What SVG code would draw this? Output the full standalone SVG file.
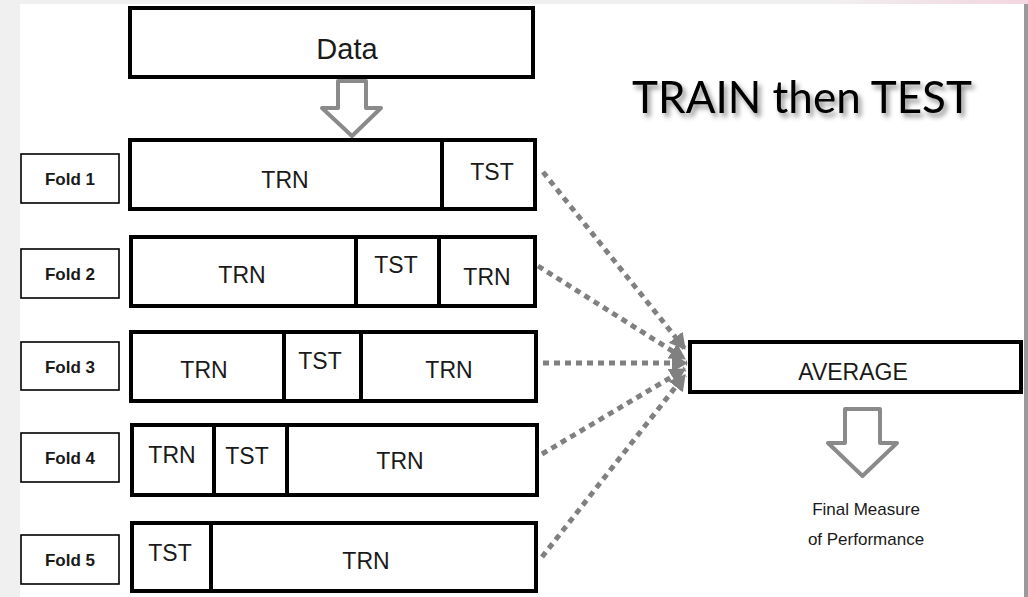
<svg xmlns="http://www.w3.org/2000/svg" width="1028" height="597" viewBox="0 0 1028 597">
<style>
.bg{fill:#f0f0f0}
.main{fill:#fff;stroke:#000;stroke-width:4}
.div{stroke:#000;stroke-width:4}
.lbl{fill:#fff;stroke:#000;stroke-width:1.6}
.t{font-family:"Liberation Sans",Arial,sans-serif;fill:#1a1a1a;text-anchor:middle}
.cell{font-size:23px}
.fold{font-size:17px;font-weight:bold}
.blk{fill:#fff;stroke:#8a8a8a;stroke-width:4;stroke-linejoin:round}
.con{stroke:#808080;stroke-width:5;stroke-dasharray:6 5;fill:none}
</style>
<defs>
<linearGradient id="topg" x1="0" y1="0" x2="1" y2="0">
<stop offset="0" stop-color="#f0f0f0"/>
<stop offset="0.8" stop-color="#f0f0f0"/>
<stop offset="1" stop-color="#f3d6e0"/>
</linearGradient>
<filter id="sh" x="-10%" y="-30%" width="130%" height="180%">
<feDropShadow dx="3" dy="4" stdDeviation="2.5" flood-color="#000" flood-opacity="0.45"/>
</filter>
<marker id="ah" markerUnits="userSpaceOnUse" markerWidth="16" markerHeight="18" refX="15" refY="9" orient="auto">
<path d="M0,0 L16,9 L0,18 z" fill="#808080"/>
</marker>
</defs>
<rect class="bg" x="0" y="0" width="1028" height="597"/>
<rect x="0" y="0" width="1028" height="4" fill="url(#topg)"/>
<rect x="20" y="4" width="1004" height="593" fill="#fff"/>
<rect x="1024" y="4" width="4" height="593" fill="#9a9a9a"/>

<g id="title">
<text x="802" y="113" font-family="Lato,'Open Sans',sans-serif" font-size="44" fill="#000" text-anchor="middle" filter="url(#sh)">TRAIN then TEST</text>
</g>

<g id="data">
<rect class="main" x="130" y="8" width="403" height="69"/>
<text class="t" x="347" y="59" font-size="29">Data</text>
</g>
<g id="arrow-data">
<path class="blk" d="M338,81 H366 V108 H381 L352,136 L322,108 H338 Z"/>
</g>

<g id="fold1">
<rect class="lbl" x="21" y="154" width="98" height="49"/>
<text class="t fold" x="70" y="185">Fold 1</text>
<rect class="main" x="130" y="140" width="405" height="69"/>
<line class="div" x1="442" y1="140" x2="442" y2="209"/>
<text class="t cell" x="285" y="188">TRN</text>
<text class="t cell" x="492" y="180">TST</text>
</g>

<g id="fold2">
<rect class="lbl" x="21" y="249" width="98" height="49"/>
<text class="t fold" x="70" y="280">Fold 2</text>
<rect class="main" x="131" y="237" width="404" height="69"/>
<line class="div" x1="356" y1="237" x2="356" y2="306"/>
<line class="div" x1="439" y1="237" x2="439" y2="306"/>
<text class="t cell" x="242" y="283">TRN</text>
<text class="t cell" x="396" y="273">TST</text>
<text class="t cell" x="487" y="285">TRN</text>
</g>

<g id="fold3">
<rect class="lbl" x="21" y="342" width="98" height="48"/>
<text class="t fold" x="70" y="372.5">Fold 3</text>
<rect class="main" x="131" y="332" width="405" height="69"/>
<line class="div" x1="284" y1="332" x2="284" y2="401"/>
<line class="div" x1="361" y1="332" x2="361" y2="401"/>
<text class="t cell" x="204" y="378">TRN</text>
<text class="t cell" x="320" y="369">TST</text>
<text class="t cell" x="449" y="378">TRN</text>
</g>

<g id="fold4">
<rect class="lbl" x="21" y="433" width="98" height="49"/>
<text class="t fold" x="70" y="464">Fold 4</text>
<rect class="main" x="132" y="425" width="405" height="70"/>
<line class="div" x1="214" y1="425" x2="214" y2="495"/>
<line class="div" x1="287" y1="425" x2="287" y2="495"/>
<text class="t cell" x="172" y="463">TRN</text>
<text class="t cell" x="247" y="464">TST</text>
<text class="t cell" x="400" y="469">TRN</text>
</g>

<g id="fold5">
<rect class="lbl" x="21" y="535" width="98" height="49"/>
<text class="t fold" x="70" y="565.5">Fold 5</text>
<rect class="main" x="132" y="523" width="404" height="68"/>
<line class="div" x1="211" y1="523" x2="211" y2="591"/>
<text class="t cell" x="170" y="561">TST</text>
<text class="t cell" x="366" y="569">TRN</text>
</g>

<g id="connectors">
<line class="con" x1="543" y1="172" x2="685" y2="349" marker-end="url(#ah)"/>
<line class="con" x1="538" y1="266" x2="685" y2="359" marker-end="url(#ah)"/>
<line class="con" x1="543" y1="363" x2="687" y2="363" marker-end="url(#ah)"/>
<line class="con" x1="542" y1="454" x2="685" y2="369" marker-end="url(#ah)"/>
<line class="con" x1="542" y1="557" x2="685" y2="375" marker-end="url(#ah)"/>
</g>

<g id="average">
<rect class="main" x="690" y="342" width="331" height="50"/>
<text class="t" x="853" y="380" font-size="23">AVERAGE</text>
</g>
<g id="arrow-avg">
<path class="blk" d="M845,409 H880 V443 H897 L862.5,476 L828,443 H845 Z"/>
</g>
<g id="final">
<text class="t" x="866" y="515" font-size="17">Final Measure</text>
<text class="t" x="866" y="545" font-size="17">of Performance</text>
</g>
</svg>
